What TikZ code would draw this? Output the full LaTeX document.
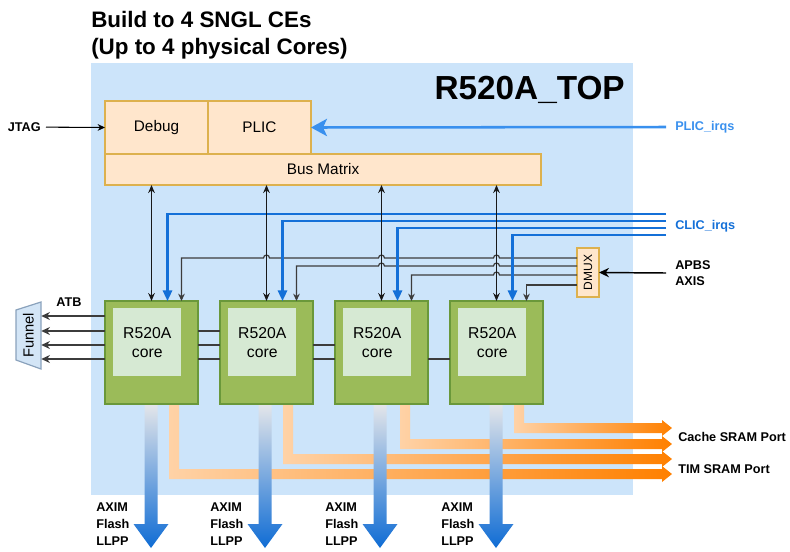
\documentclass[tikz,border=0pt]{standalone}
\usepackage{fontspec}
\usepackage{graphicx}
\setmainfont{Liberation Sans}
\usetikzlibrary{arrows.meta,calc}

\definecolor{bgblue}{HTML}{CCE4FA}
\definecolor{peach}{HTML}{FFE6CC}
\definecolor{peachline}{HTML}{DDB14E}
\definecolor{coregreen}{HTML}{9BBB59}
\definecolor{coreline}{HTML}{6A983A}
\definecolor{coreinner}{HTML}{D6E9D3}
\definecolor{irqblue}{HTML}{1470D8}
\definecolor{plicblue}{HTML}{3990EE}
\definecolor{wiregray}{HTML}{3C3C3C}
\definecolor{orlight}{HTML}{FFD2A6}
\definecolor{ordark}{HTML}{FF8000}
\definecolor{axblue}{HTML}{0F6CD4}
\definecolor{axtop}{HTML}{E4E6EA}
\definecolor{funnelfill}{HTML}{D3E5F6}
\definecolor{funnelline}{HTML}{8AA2BC}

\tikzset{
  wh/.style 2 args={minimum width=#1*0.75pt, minimum height=#2*0.75pt},
  blockbox/.style={draw=peachline, fill=peach, line width=0.9pt, inner sep=0pt, outer sep=0pt,
    font=\fontsize{11.5}{13}\selectfont},
  corebox/.style={draw=coreline, fill=coregreen, line width=0.9pt, inner sep=0pt, outer sep=0pt, wh={93}{103}},
  innerbox/.style={fill=coreinner, inner sep=0pt, wh={68}{68}, align=center,
    font=\fontsize{11.8}{14.3}\selectfont},
  sidelabel/.style={font=\bfseries\fontsize{9.5}{12.4}\selectfont, inner xsep=6.75pt, inner ysep=0pt, align=left},
  titletext/.style={font=\bfseries\fontsize{16.8}{20}\selectfont, inner sep=0pt},
  busarrow/.style={{Stealth[length=6pt,width=5pt]}-{Stealth[length=6pt,width=5pt]}, line width=1.1pt, black!90},
  irqline/.style={irqblue, line width=1.6pt, -{Triangle[length=8pt,width=7pt]}},
  plicarrow/.style={plicblue, line width=1.9pt, -{Stealth[length=12pt,width=13pt,inset=3pt]}},
  dmuxline/.style={wiregray, line width=0.9pt, -{Stealth[length=5.5pt,width=5pt]}},
  linkline/.style={wiregray, line width=1.1pt},
  atbline/.style={wiregray, line width=1.1pt, -{Stealth[length=6.5pt,width=6pt]}},
  bridge/.style={insert path={arc[start angle=0, end angle=180, radius=2.25pt]}},
  orarrow/.style={left color=orlight, right color=ordark},
  axarrow/.style={top color=axtop, bottom color=axblue},
}

\begin{document}
\begin{tikzpicture}[x=0.75pt, y=-0.75pt]
    \useasboundingbox (0,0) rectangle (790,551);
    % title
    \node[titletext, anchor=base west] (title1) at (91,27) {Build to 4 SNGL CEs};
    \node[titletext, anchor=base west] (title2) at (91,54) {(Up to 4 physical Cores)};
    %%%%%%%%%%%%%%%%%%%%%%%%%%%%%%%%%%
    \node[fill=bgblue, inner sep=0pt, wh={542}{432}, anchor=north west] (top) at (91,63) {};
    \node[font=\bfseries\fontsize{25}{28}\selectfont, inner sep=0pt, anchor=base east] (toplabel) at (625,99) {R520A\_TOP};
    %%%%%%%%%%%%%%%%%%%%%%%%%%%%%%%%%%
    % ports to SRAM
    \foreach \xo/\yy in {174/474, 288/459, 405/444, 519/428}
        \shade[orarrow] (\xo-5,404) -- (\xo-5,\yy+5) -- (662,\yy+5) -- (662,\yy+8) -- (672,\yy)
            -- (662,\yy-8) -- (662,\yy-5) -- (\xo+5,\yy-5) -- (\xo+5,404) -- cycle;
    % AXIM down
    \foreach \xb in {151,265,380,496}
        \shade[axarrow] (\xb-6.5,404) -- (\xb-6.5,524) -- (\xb-17.5,524) -- (\xb,548)
            -- (\xb+17.5,524) -- (\xb+6.5,524) -- (\xb+6.5,404) -- cycle;
    %%%%%%%%%%%%%%%%%%%%%%%%%%%%%%%%%%
    \node[blockbox, wh={103}{53}, anchor=north west] (debug) at (105,101) {Debug};
    \node[blockbox, wh={103}{53}, anchor=north west] (plic) at (debug.north east) {PLIC};
    \node[blockbox, wh={436}{31}, anchor=north west] (bus) at (debug.south west) {Bus Matrix};
    \node[blockbox, wh={22}{49}, anchor=north west, font=\fontsize{9}{10}\selectfont] (dmux) at (577,248) {\rotatebox{90}{DMUX}};
    \foreach \i/\x in {1/105, 2/220, 3/335, 4/450} {
        \node[corebox, anchor=north west] (core\i) at (\x,301) {};
        \node[innerbox, anchor=north west] (in\i) at (\x+8,308) {R520A\\core};
    }
    % funnel
    \draw[fill=funnelfill, draw=funnelline, line width=0.9pt] (16,310) -- (41,302) -- (41,369) -- (16,360) -- cycle;
    \node[inner sep=0pt, wh={25}{67}, font=\fontsize{11}{12}\selectfont] (funnel) at (28.5,335.5) {\rotatebox{90}{Funnel}};
    %%%%%%%%%%%%%%%%%%%%%%%%%%%%%%%%%%
    % labels
    \node[sidelabel, inner xsep=3.75pt, anchor=east] (jtag) at (46,127) {JTAG};
    \node[sidelabel, anchor=west, text=plicblue] (plicirq) at (666,127) {PLIC\_irqs};
    \node[sidelabel, anchor=west, text=irqblue] (clic) at (666,226) {CLIC\_irqs};
    \node[sidelabel, anchor=west] (apbs) at (666,273) {APBS\\AXIS};
    \node[sidelabel, inner sep=0pt] (atb) at (69,302) {ATB};
    \node[sidelabel, inner sep=0pt, anchor=west] (cacheport) at (678,437) {Cache SRAM Port};
    \node[sidelabel, inner sep=0pt, anchor=west] (timport) at (678,469) {TIM SRAM Port};
    \foreach \i/\xl in {1/96, 2/210, 3/325, 4/441}
        \node[sidelabel, inner sep=0pt, anchor=north west] (axim\i) at (\xl,503) {AXIM\\Flash\\LLPP};
    %%%%%%%%%%%%%%%%%%%%%%%%%%%%%%%%%%
    \coordinate (c1) at (666,214);
    \coordinate (c2) at (666,221);
    \coordinate (c3) at (666,228);
    \coordinate (c4) at (666,235);
    \coordinate (m1) at (0,258);
    \coordinate (m2) at (0,266);
    \coordinate (m3) at (0,275);
    \coordinate (m4) at (0,285);
    \coordinate (a0) at (0,316);
    \coordinate (r1) at (0,331);
    \coordinate (r2) at (0,345);
    \coordinate (r3) at (0,359);
    %%%%%%%%%%%%%%%%%%%%%%%%%%%%%%%%%%
    \draw[->, line width=0.8pt, >={Stealth[length=5.5pt,width=5pt]}] (jtag) -- (debug.west); % JTAG
    \draw[plicarrow] (plicirq.west) -- (plic.east); % PLIC irqs
    \draw[->, line width=1.1pt, >={Stealth[length=7.5pt,width=7pt]}] (apbs.west) -- (dmux.east); % APBS
    % DMUX to cores
    \draw[dmuxline] (dmux.west |- m1) -- ($(core4.north |- m1)+(3,0)$) [bridge]
        -- ($(core3.north |- m1)+(3,0)$) [bridge] -- ($(core2.north |- m1)+(3,0)$) [bridge]
        -| ($(core1.north)+(30,0)$);
    \draw[dmuxline] (dmux.west |- m2) -- ($(core4.north |- m2)+(3,0)$) [bridge]
        -- ($(core3.north |- m2)+(3,0)$) [bridge] -| ($(core2.north)+(30,0)$);
    \draw[dmuxline] (dmux.west |- m3) -- ($(core4.north |- m3)+(3,0)$) [bridge]
        -| ($(core3.north)+(30,0)$);
    \draw[dmuxline] (dmux.west |- m4) -| ($(core4.north)+(30,0)$);
    % CLIC irqs
    \foreach \i in {1,...,4}
        \draw[irqline] (c\i) -| ($(core\i.north)+(16,0)$);
    % bus matrix
    \foreach \i in {1,...,4}
        \draw[busarrow] (core\i.north) -- (core\i.north |- bus.south);
    % between cores
    \foreach \r in {r1,r2,r3} \draw[linkline] (core1.east |- \r) -- (core2.west |- \r);
    \foreach \r in {r2,r3} \draw[linkline] (core2.east |- \r) -- (core3.west |- \r);
    \draw[linkline] (core3.east |- r3) -- (core4.west |- r3);
    % ATB
    \foreach \r in {a0,r1,r2,r3} \draw[atbline] (core1.west |- \r) -- (funnel.east |- \r);
\end{tikzpicture}
\end{document}
